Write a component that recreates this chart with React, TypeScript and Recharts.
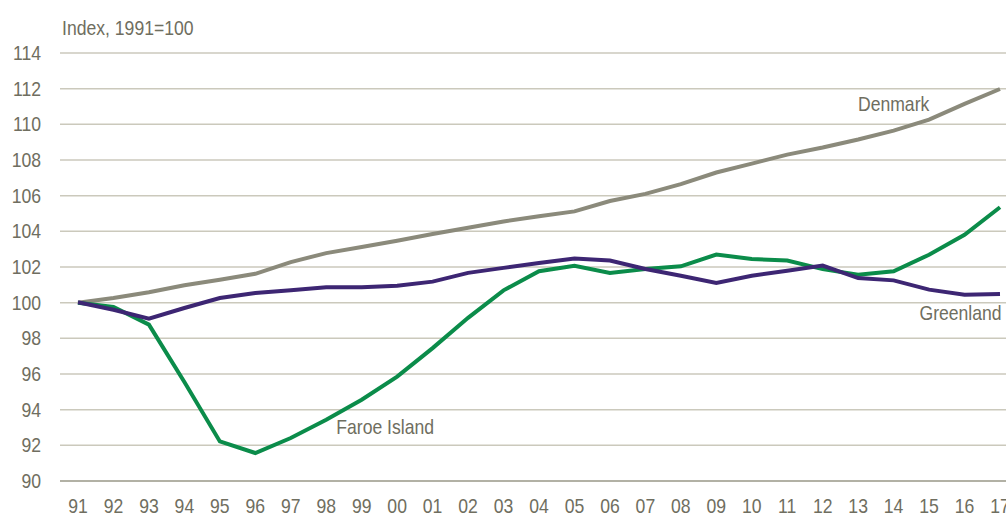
import React from "react";
import { LineChart, Line, XAxis, YAxis, CartesianGrid, ReferenceDot } from "recharts";

const years = ["91","92","93","94","95","96","97","98","99","00","01","02","03","04","05","06","07","08","09","10","11","12","13","14","15","16","17"];
const denmark = [100, 100.26, 100.58, 100.98, 101.29, 101.62, 102.27, 102.78, 103.12, 103.47, 103.85, 104.2, 104.55, 104.85, 105.12, 105.7, 106.1, 106.65, 107.3, 107.8, 108.3, 108.7, 109.15, 109.65, 110.26, 111.15, 111.98];
const faroe = [100, 99.76, 98.77, 95.55, 92.22, 91.57, 92.41, 93.44, 94.56, 95.85, 97.45, 99.15, 100.69, 101.76, 102.07, 101.67, 101.89, 102.04, 102.7, 102.45, 102.36, 101.88, 101.57, 101.76, 102.69, 103.81, 105.35];
const greenland = [100.02, 99.6, 99.1, 99.7, 100.26, 100.54, 100.69, 100.86, 100.86, 100.95, 101.18, 101.67, 101.95, 102.23, 102.47, 102.36, 101.89, 101.51, 101.1, 101.51, 101.79, 102.08, 101.38, 101.25, 100.73, 100.45, 100.49];
const yTicks = [90, 92, 94, 96, 98, 100, 102, 104, 106, 108, 110, 112, 114];

const data = years.map((y, i) => ({ year: y, Denmark: denmark[i], Faroe: faroe[i], Greenland: greenland[i] }));

const FONT = '"Liberation Sans", Arial, sans-serif';
const TEXT = "#6f6e60";
const SX = 0.88;

function XTick(props: any) {
  const { x, y, payload } = props;
  return (
    <g transform={`translate(${x},${y})`}>
      <text transform={`scale(${SX},1)`} x={0} y={0} dy="0.71em" textAnchor="middle" fill={TEXT} fontSize={20} fontFamily={FONT}>
        {payload.value}
      </text>
    </g>
  );
}

function YTick(props: any) {
  const { x, y, payload } = props;
  return (
    <g transform={`translate(${x},${y})`}>
      <text transform={`scale(${SX},1)`} x={0} y={0} dy="0.355em" textAnchor="end" fill={TEXT} fontSize={20} fontFamily={FONT}>
        {payload.value}
      </text>
    </g>
  );
}

function makeLabel(text: string, dx: number) {
  return (props: any) => {
    const vb = props.viewBox || {};
    const cx = (vb.x ?? 0) + (vb.width ?? 0) / 2 + dx;
    const cy = (vb.y ?? 0) + (vb.height ?? 0) / 2;
    return (
      <g transform={`translate(${cx},${cy})`}>
        <text transform={`scale(${SX},1)`} x={0} y={0} dy="0.355em" textAnchor="middle" fill={TEXT} fontSize={20} fontFamily={FONT}>
          {text}
        </text>
      </g>
    );
  };
}

export default function App() {
  return (
    <div style={{ position: "absolute", left: 0, top: 0, width: 1006, height: 524, background: "#fff" }}>
      <div style={{ position: "absolute", left: 62, top: 18, fontFamily: FONT, fontSize: 20, lineHeight: "20px", color: TEXT, transform: `scaleX(${SX})`, transformOrigin: "left top", whiteSpace: "nowrap" }}>
        Index, 1991=100
      </div>
      <LineChart width={1006} height={524} data={data} margin={{ top: 53, right: 0, bottom: 0, left: 0 }}>
        <CartesianGrid horizontal vertical={false} stroke="#cbc9bc" strokeWidth={1.5} />
        <XAxis
          dataKey="year"
          interval={0}
          height={43}
          padding={{ left: 18, right: 6 }}
          tickLine={false}
          tickSize={0}
          tickMargin={18}
          axisLine={{ stroke: "#a6a497", strokeWidth: 1.5 }}
          tick={<XTick />}
        />
        <YAxis
          width={60}
          domain={[90, 114]}
          ticks={yTicks}
          interval={0}
          axisLine={false}
          tickLine={false}
          tickSize={0}
          tickMargin={19}
          tick={<YTick />}
        />
        <Line type="linear" dataKey="Denmark" stroke="#8b8a7b" strokeWidth={4} dot={false} isAnimationActive={false} />
        <Line type="linear" dataKey="Faroe" stroke="#0b8c4a" strokeWidth={4} dot={false} isAnimationActive={false} />
        <Line type="linear" dataKey="Greenland" stroke="#3d2673" strokeWidth={4} dot={false} isAnimationActive={false} />
        <ReferenceDot x="14" y={111.16} r={0} fill="none" stroke="none" label={makeLabel("Denmark", 0)} />
        <ReferenceDot x="16" y={99.44} r={0} fill="none" stroke="none" label={makeLabel("Greenland", -4)} />
        <ReferenceDot x="00" y={93.04} r={0} fill="none" stroke="none" label={makeLabel("Faroe Island", -12)} />
      </LineChart>
    </div>
  );
}
